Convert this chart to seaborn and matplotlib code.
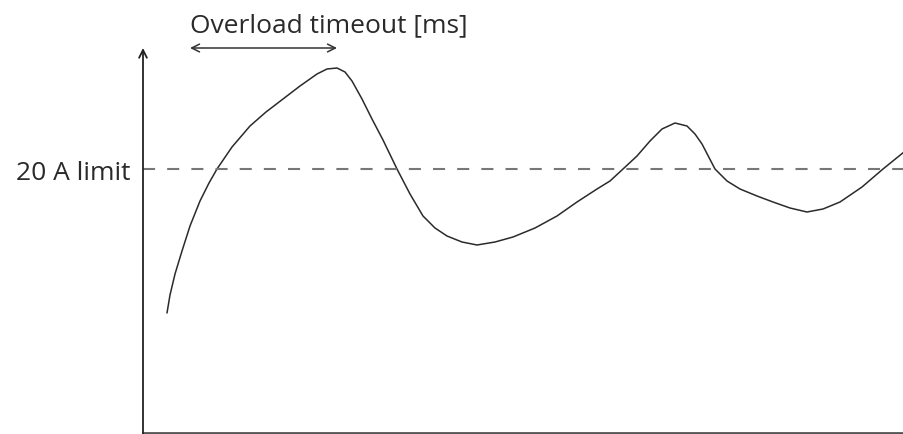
import matplotlib
matplotlib.use("Agg")
import matplotlib.pyplot as plt
import seaborn as sns
import pandas as pd

# curve (x = time, y = current, arbitrary units)
t = [24, 27, 32, 39, 47, 57, 66, 74, 89, 107, 123, 140, 157, 174, 184, 194, 202, 209, 219,
     229, 240, 254, 267, 280, 292, 304, 319, 334, 352, 370, 392, 414, 434, 454, 467,
     480, 494, 507, 519, 532, 544, 552, 559, 572, 584, 597, 614, 630, 647, 664, 680,
     697, 719, 740, 761]
current = [120, 138, 159, 182, 207, 232, 250, 264, 286, 307, 321, 334, 347, 359, 364,
           365, 361, 352, 334, 314, 293, 264, 239, 217, 205, 197, 191, 188, 191, 196,
           205, 217, 231, 244, 252, 264, 277, 292, 304, 310, 307, 299, 289, 264, 252,
           244, 237, 231, 225, 221, 224, 231, 246, 264, 281]

limit = 264
limit_label = "20 A limit"
timeout_label = "Overload timeout [ms]"
timeout_span = [47, 194]

sns.set_style("white")
plt.rcParams['font.family'] = ['Open Sans', 'DejaVu Sans']

fig = plt.figure(figsize=(9.04, 4.35), dpi=100)
ax = fig.add_axes([143 / 904, 1 / 435, 761 / 904, 384 / 435])

df = pd.DataFrame({'t': t, 'current': current})
sns.lineplot(data=df, x='t', y='current', color='#2b2b2b', lw=1.1, ax=ax)

ax.axhline(limit, color='#777777', lw=1.5, dashes=(5.8, 5.8))

ax.set_xlim(0, 761)
ax.set_ylim(0, 384)
ax.set_xlabel('')
ax.set_ylabel('')
ax.set_xticks([])
ax.set_yticks([limit])
ax.set_yticklabels([limit_label], fontsize=19, color='#2a2a2a')
ax.tick_params(axis='y', direction='in', length=6, width=1.2, color='#222222', pad=9, left=True)

for s in ['top', 'right', 'left']:
    ax.spines[s].set_visible(False)
ax.spines['bottom'].set_color('#555555')
ax.spines['bottom'].set_linewidth(2)

# y-axis with arrow head
ax.annotate('', xy=(0, 385), xytext=(0, -1), annotation_clip=False,
            arrowprops=dict(arrowstyle='->', lw=1.3, color='#222222',
                            mutation_scale=14, shrinkA=0, shrinkB=0))

# timeout span arrow and label
ax.annotate('', xy=(timeout_span[0], 385), xytext=(timeout_span[1], 385), annotation_clip=False,
            arrowprops=dict(arrowstyle='<->', lw=1.1, color='#333333',
                            mutation_scale=14, shrinkA=0, shrinkB=0))
ax.text(timeout_span[0], 408, timeout_label, fontsize=19, color='#2a2a2a',
        ha='left', va='center', clip_on=False)

plt.savefig('out.png', dpi=100)
plt.close()
